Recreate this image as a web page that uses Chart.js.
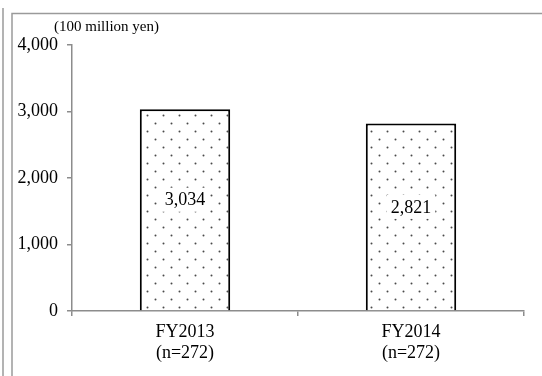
<!DOCTYPE html>
<html>
<head>
<meta charset="utf-8">
<script src="https://cdn.jsdelivr.net/npm/chart.js@4"></script>
<style>
	html, body { margin: 0; padding: 0; background: #fff; }
	#wrap { width: 542px; height: 376px; }
</style>
</head>
<body>
<div id="wrap"><canvas id="salesChart" width="542" height="376"></canvas></div>
<script>
// Totals per fiscal year (100 million yen)
const years = ['FY2013', 'FY2014'];
const samples = ['(n=272)', '(n=272)'];
const totals = [3034, 2821];
const yTicks = [0, 1000, 2000, 3000, 4000];

const serif = "'Liberation Serif', 'Times New Roman', serif";
const axisGrey = '#8c8c8c';

// Dotted fill used inside the bars
function dotPattern() {
	const tile = document.createElement('canvas');
	tile.width = 16;
	tile.height = 16;
	const t = tile.getContext('2d');
	t.fillStyle = '#fff';
	t.fillRect(0, 0, 16, 16);
	t.fillStyle = '#4a4a4a';
	t.beginPath();
	t.arc(3.5, 3.5, 1, 0, Math.PI * 2);
	t.arc(11.5, 11.5, 1, 0, Math.PI * 2);
	t.fill();
	return t.createPattern(tile, 'repeat');
}

// Grey frame lines around the panel
const framePlugin = {
	id: 'frame',
	beforeDraw(chart) {
		const ctx = chart.ctx;
		ctx.save();
		ctx.strokeStyle = '#9a9a9a';
		ctx.lineWidth = 1.5;
		ctx.beginPath();
		ctx.moveTo(3, 8);
		ctx.lineTo(3, chart.height);
		ctx.moveTo(12, chart.height);
		ctx.lineTo(12, 13.5);
		ctx.lineTo(chart.width, 13.5);
		ctx.stroke();
		ctx.fillStyle = '#000';
		ctx.font = '15px ' + serif;
		ctx.textAlign = 'left';
		ctx.textBaseline = 'middle';
		ctx.fillText('(100 million yen)', 54, 27);
		ctx.restore();
	}
};

// Value labels on a white box in the middle of each bar
const valueLabels = {
	id: 'valueLabels',
	afterDatasetsDraw(chart) {
		const ctx = chart.ctx;
		const meta = chart.getDatasetMeta(0);
		ctx.save();
		ctx.font = '18px ' + serif;
		ctx.textAlign = 'center';
		ctx.textBaseline = 'middle';
		meta.data.forEach((bar, i) => {
			const text = totals[i].toLocaleString('en-US');
			const y = (bar.y + bar.base) / 2 - 10;
			const w = ctx.measureText(text).width + 8;
			ctx.fillStyle = '#fff';
			ctx.fillRect(bar.x - w / 2, y - 12, w, 24);
			ctx.fillStyle = '#000';
			ctx.fillText(text, bar.x, y + 1);
		});
		ctx.restore();
	}
};

new Chart(document.getElementById('salesChart'), {
	type: 'bar',
	data: {
		labels: years.map((y, i) => [y, samples[i]]),
		datasets: [{
			data: totals,
			backgroundColor: dotPattern(),
			borderColor: '#000',
			borderWidth: {top: 2, left: 2, right: 2, bottom: 0},
			borderSkipped: false,
			barPercentage: 0.8,
			categoryPercentage: 0.5,
		}]
	},
	options: {
		responsive: false,
		animation: false,
		layout: {padding: {top: 45, right: 18, bottom: 0, left: 0}},
		plugins: {
			legend: {display: false},
			tooltip: {enabled: false},
		},
		scales: {
			x: {
				grid: {display: true, drawOnChartArea: false, drawTicks: true, tickLength: 5, color: axisGrey, lineWidth: 1.5},
				border: {display: true, color: axisGrey, width: 1.5},
				ticks: {color: '#000', font: {family: serif, size: 18, lineHeight: 1.15}, padding: 6, maxRotation: 0},
				afterFit(scale) { scale.height = 65; },
			},
			y: {
				min: 0,
				max: 4000,
				afterBuildTicks(scale) { scale.ticks = yTicks.map(v => ({value: v})); },
				grid: {display: true, drawOnChartArea: false, drawTicks: true, tickLength: 5, color: axisGrey, lineWidth: 1.5},
				border: {display: true, color: axisGrey, width: 1.5},
				ticks: {
					color: '#000',
					font: {family: serif, size: 18},
					padding: 9,
					callback: v => v.toLocaleString('en-US'),
				},
				afterFit(scale) { scale.width = 72; },
			}
		}
	},
	plugins: [framePlugin, valueLabels]
});
</script>
</body>
</html>
